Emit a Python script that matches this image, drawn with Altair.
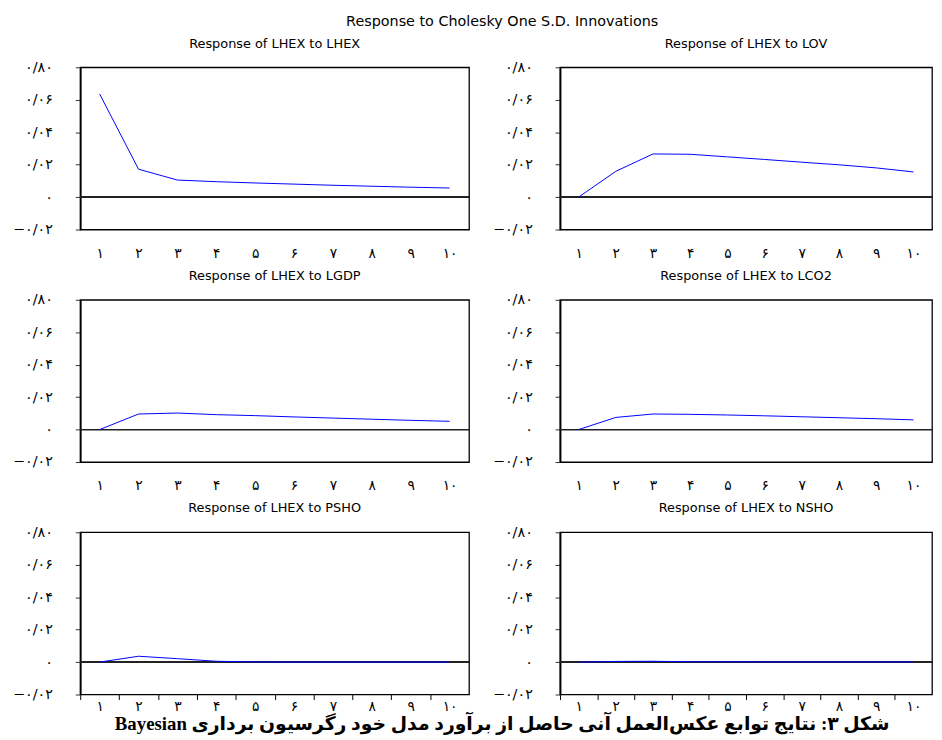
import altair as alt
import pandas as pd

# ---------------- data ----------------
periods = [1, 2, 3, 4, 5, 6, 7, 8, 9, 10]
period_labels = ["۱", "۲", "۳", "۴", "۵", "۶", "۷", "۸", "۹", "۱۰"]
y_tick_values = [-0.02, 0.0, 0.02, 0.04, 0.06, 0.08]
y_tick_labels = ["−۰/۰۲", "۰", "۰/۰۲", "۰/۰۴", "۰/۰۶", "۰/۸۰"]

resp_lhex = [0.0635, 0.0172, 0.0105, 0.0095, 0.0087, 0.0080, 0.0073, 0.0067, 0.0061, 0.0056]
resp_lov = [0.0, 0.0159, 0.0266, 0.0264, 0.0248, 0.0232, 0.0215, 0.0199, 0.0180, 0.0155]
resp_lgdp = [0.0, 0.0096, 0.0102, 0.0092, 0.0086, 0.0078, 0.0071, 0.0064, 0.0057, 0.0051]
resp_lco2 = [0.0, 0.0075, 0.0096, 0.0094, 0.0090, 0.0085, 0.0079, 0.0073, 0.0067, 0.0060]
resp_psho = [0.0, 0.0036, 0.0021, 0.0005, 0.0001, 0.0, 0.0, 0.0, 0.0, 0.0]
resp_nsho = [0.0, 0.0004, 0.0005, 0.0002, 0.0002, 0.0001, 0.0001, 0.0001, 0.0001, 0.0001]

panel_titles = [
    "Response of LHEX to LHEX", "Response of LHEX to LOV",
    "Response of LHEX to LGDP", "Response of LHEX to LCO2",
    "Response of LHEX to PSHO", "Response of LHEX to NSHO",
]
main_title = "Response to Cholesky One S.D. Innovations"
caption_fa = "شکل ۳: نتایج توابع عکس\u200cالعمل آنی حاصل از برآورد مدل خود رگرسیون برداری"
caption_en = "Bayesian"

# ---------------- helpers ----------------
FA_FONT = "DejaVu Sans"
EN_FONT = "DejaVu Sans"

y_expr = " : ".join(
    f"abs(datum.value - ({v})) < 1e-9 ? '{l}'" for v, l in zip(y_tick_values, y_tick_labels)
) + " : ''"
lab_arr = "[" + ",".join(f"'{l}'" for l in period_labels) + "]"

PANEL_H = 164


def panel(values, title, width, bottom_row):
    df = pd.DataFrame({"period": periods, "response": values})
    step = width / len(periods)
    common = dict(
        values=periods, labelExpr=f"{lab_arr}[datum.value - 1]",
        domain=False, grid=False, tickCount=40,
        labelFont=FA_FONT, labelFontSize=14, labelFontWeight="normal", labelColor="black",
        labelFlush=False, labelOverlap=False,
    )
    if bottom_row:
        x_axis = alt.Axis(
            tickOffset=-step / 2, labelOffset=step / 2,
            tickSize=5, tickColor="black", tickWidth=1,
            labelPadding=0, **common,
        )
    else:
        x_axis = alt.Axis(tickSize=0, labelPadding=17, **common)
    y_axis = alt.Axis(
        values=y_tick_values, labelExpr=y_expr, tickCount=40,
        tickSize=5, tickColor="#333", labelPadding=23,
        domain=True, domainColor="black", domainWidth=1.8, grid=False,
        labelFont=FA_FONT, labelFontSize=14.5, labelFontWeight="normal", labelColor="black",
        labelFlush=False, labelOverlap=False, minExtent=64, maxExtent=64,
    )
    y_scale = alt.Scale(domain=[-0.02, 0.08], nice=False, zero=False)
    zero = alt.Chart(df).mark_rule(color="#222", strokeWidth=0.8).encode(
        y=alt.YDatum(0.0, axis=y_axis, scale=y_scale, title=None)
    )
    line = alt.Chart(df).mark_line(color="#0000ff", strokeWidth=1).encode(
        x=alt.X("period:Q", scale=alt.Scale(domain=[0.5, 10.5], nice=False, zero=False),
                axis=x_axis, title=None),
        y=alt.Y("response:Q", scale=y_scale, axis=y_axis, title=None),
    )
    return alt.layer(zero, line).properties(
        width=width, height=PANEL_H,
        title=alt.TitleParams(title, font=EN_FONT, fontSize=13, fontWeight="normal",
                              color="black", anchor="middle", offset=9),
        view=alt.ViewBackground(stroke="black", strokeWidth=1.3),
    )


W_LEFT, W_RIGHT = 393, 376
series = [resp_lhex, resp_lov, resp_lgdp, resp_lco2, resp_psho, resp_nsho]
rows = []
for r in range(3):
    left = panel(series[2 * r], panel_titles[2 * r], W_LEFT, r == 2)
    right = panel(series[2 * r + 1], panel_titles[2 * r + 1], W_RIGHT, r == 2)
    rows.append(alt.hconcat(left, right, spacing=20))

grid = alt.vconcat(*rows, spacing=8).properties(
    title=alt.TitleParams(main_title, font=EN_FONT, fontSize=14.5, fontWeight="normal",
                          color="black", anchor="middle", offset=8, dx=30)
)

chart = alt.vconcat(grid, spacing=0).properties(
    title=alt.TitleParams(
        caption_en + " " + caption_fa, orient="bottom",
        font="Liberation Serif, DejaVu Sans", fontSize=19, fontWeight="bold",
        color="black", anchor="middle", baseline="alphabetic", offset=16, dx=30,
    ),
    padding={"left": 3, "top": 1, "right": 0, "bottom": 0},
).configure_view(stroke=None).configure_concat(spacing=0)

chart.save("out.html", embed_options={"renderer": "svg", "actions": False})
